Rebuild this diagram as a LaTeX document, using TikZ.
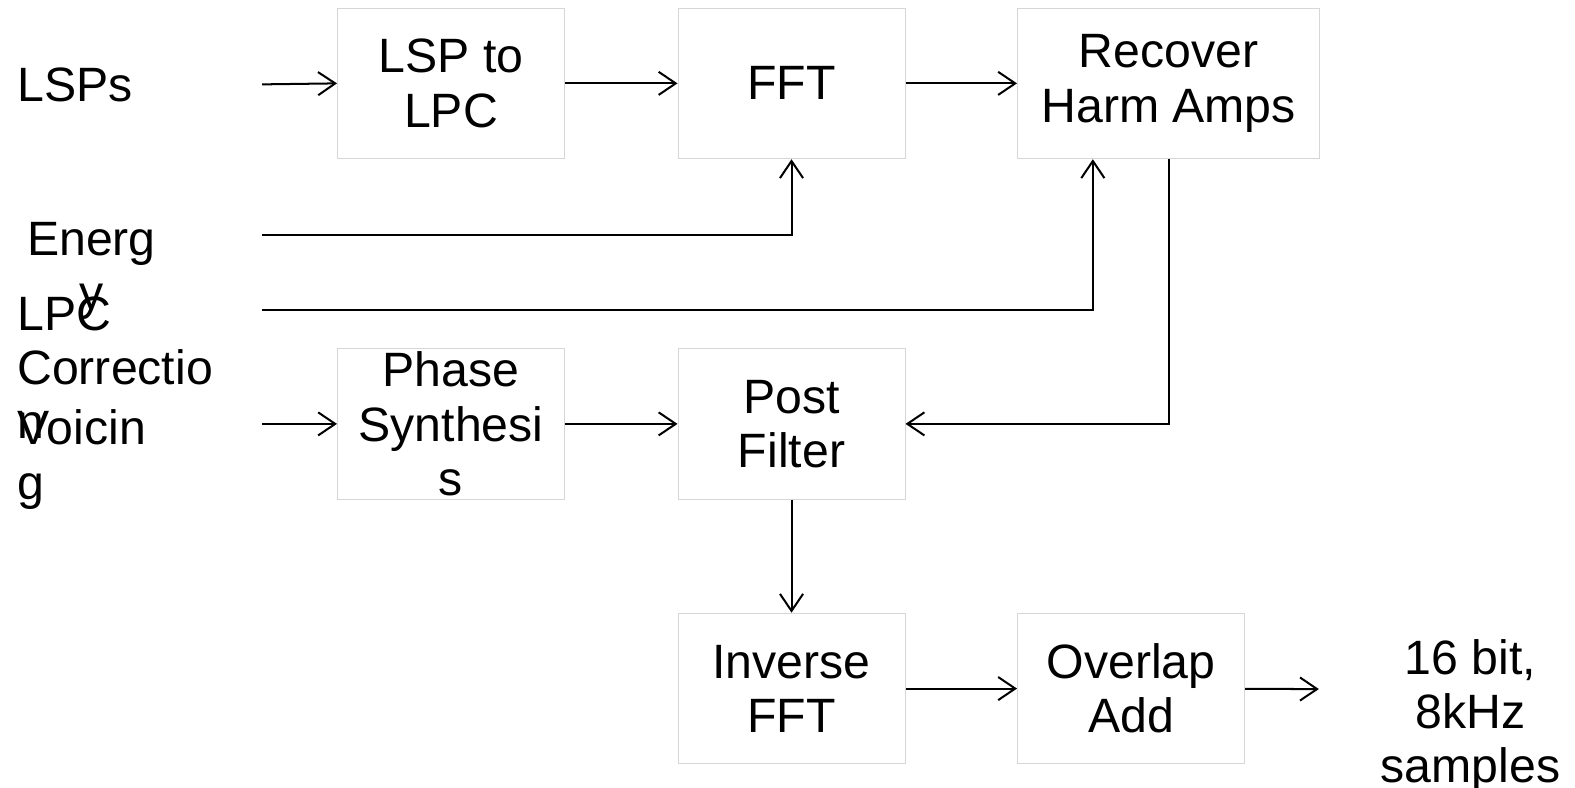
\documentclass[tikz,border=0pt]{standalone}
\usepackage{fontspec}
\setmainfont{Liberation Sans}
\usetikzlibrary{arrows.meta,calc}
\newcommand{\dgfont}{\fontsize{48}{54}\selectfont}
\begin{document}
\begin{tikzpicture}[x=1pt,y=-1pt,
  box/.style={draw=black!16, line width=1pt, minimum width=226pt, minimum height=150pt, align=center, inner sep=0pt, font=\dgfont},
  lbl/.style={inner sep=0pt, font=\dgfont},
  arr/.style={line width=2pt, -{Straight Barb[length=17pt,width=23pt,line width=2pt]}}]
\useasboundingbox (0,0) rectangle (1568,784);
% boxes
\node[box] (l2l) at (449,83) {\raisebox{-3pt}{LSP to}\\\raisebox{-3pt}{LPC}};
\node[box] (fft) at (788,83) {FFT};
\node[box, minimum width=301pt] (rec) at (1163.5,83) {Recover\\Harm Amps};
\node[box] (ps) at (449,422) {Phase\\Synthesi\\s};
\node[box] (pf) at (788,422) {Post\\Filter};
\node[box] (ifft) at (788,685.5) {Inverse\\FFT};
\node[box] (ola) at (1126,685.5) {Overlap\\Add};
% labels
\node[lbl, align=center] (out) at (1464,713) {16 bit,\\8kHz\\samples};
\node[lbl, anchor=base west] (lsps) at (17,101) {LSPs};
\node[lbl, align=center, anchor=base] (energy) at (91,308) {Energ\\y};
\node[lbl, align=left, anchor=base west] (lpcc) at (17,437) {LPC\\Correctio\\n};
\node[lbl, align=left, anchor=base west] (voicing) at (17,497) {Voicin\\g};
% connector ends
\coordinate (lspsin) at (261,84);
\coordinate (ein) at (261,234);
\coordinate (lin) at (261,309);
\coordinate (vin) at (261,422);
\coordinate (recin) at ($(rec.south)+(-75.5,0)$);
\coordinate (oend) at (1313,686);
% connectors
\draw[arr] (lspsin) -- (l2l.west);
\draw[arr] (l2l) -- (fft);
\draw[arr] (fft) -- (rec);
\draw[arr] (ein) -| (fft.south);
\draw[arr] (lin) -| (recin);
\draw[arr] (rec.south) |- (pf.east);
\draw[arr] (vin) -- (ps.west);
\draw[arr] (ps) -- (pf);
\draw[arr] (pf) -- (ifft);
\draw[arr] (ifft) -- (ola);
\draw[arr] (ola) -- (oend);
\end{tikzpicture}
\end{document}
